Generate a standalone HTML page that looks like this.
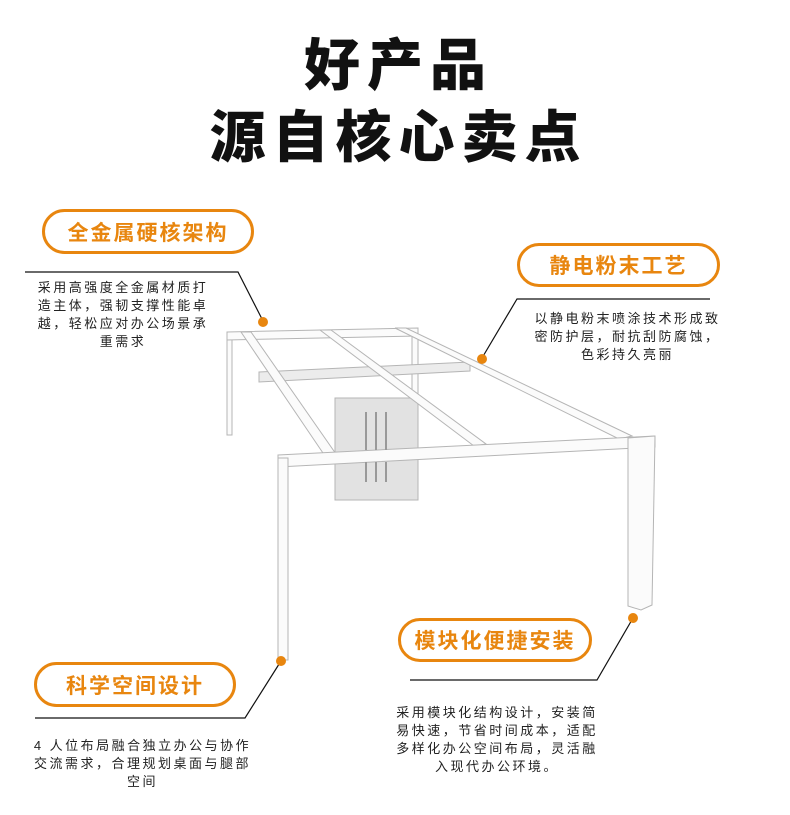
<!DOCTYPE html>
<html><head><meta charset="utf-8"><style>
body{margin:0;background:#fff;}
.w{position:relative;width:790px;height:815px;overflow:hidden;font-family:"Liberation Sans","Noto Sans CJK SC",sans-serif;}
.t{position:absolute;left:0;width:790px;text-align:center;font-weight:900;font-size:56px;color:#111;line-height:1;letter-spacing:7px;text-indent:7px;}
.pill{position:absolute;border:3px solid #e8860f;border-radius:24px;box-sizing:border-box;color:#e8860f;font-weight:700;font-size:21px;display:flex;align-items:center;justify-content:center;letter-spacing:2px;}
.d{position:absolute;font-size:13px;color:#222;text-align:center;line-height:18px;letter-spacing:2.5px;white-space:nowrap;}
</style></head><body><div class="w">
<div class="t" style="top:38px">好产品</div>
<div class="t" style="top:110px">源自核心卖点</div>

<svg width="790" height="815" style="position:absolute;left:0;top:0">
<g fill="#fbfbfb" stroke="#b5b5b5" stroke-width="1">
<rect x="227" y="333" width="5" height="102"/>
<rect x="412" y="330" width="6" height="66"/>
<polygon points="227,332 418,328 418,336 227,340"/>
<rect x="335" y="398" width="83" height="102" fill="#e2e2e2"/>
<polygon points="259,372 470,362 470,371 259,382" fill="#ececec"/>
<polygon points="241,332 251,332 336,454 325,456"/>
<polygon points="320,330 331,330 486,444 474,446"/>
<polygon points="395,328 406,328 632,436 619,439"/>
<polygon points="278,455 655,436 655,447 278,467"/>
<rect x="278" y="458" width="10" height="202"/>
<polygon points="628,438 655,436 652,605 641,610 628,606"/>
</g>
<g fill="#999">
<rect x="365" y="412" width="2" height="38"/><rect x="375" y="412" width="2" height="38"/><rect x="385" y="412" width="2" height="38"/>
<rect x="365" y="462" width="2" height="20"/><rect x="375" y="462" width="2" height="20"/><rect x="385" y="462" width="2" height="20"/>
</g>
<g stroke="#111" stroke-width="1.2" fill="none">
<polyline points="25,272 238,272 263,321"/>
<polyline points="710,299 517,299 482,358"/>
<polyline points="35,718 245,718 281,661"/>
<polyline points="410,680 597,680 633,618"/>
</g>
<g fill="#e8860f">
<circle cx="263" cy="322" r="5"/><circle cx="482" cy="359" r="5"/>
<circle cx="281" cy="661" r="5"/><circle cx="633" cy="618" r="5"/>
</g>
</svg>

<div class="pill" style="left:42px;top:209px;width:212px;height:45px">全金属硬核架构</div>
<div class="pill" style="left:517px;top:243px;width:203px;height:44px">静电粉末工艺</div>
<div class="pill" style="left:34px;top:662px;width:202px;height:45px">科学空间设计</div>
<div class="pill" style="left:398px;top:618px;width:194px;height:44px">模块化便捷安装</div>

<div class="d" style="left:23px;top:279px;width:200px">采用高强度全金属材质打<br>造主体，强韧支撑性能卓<br>越，轻松应对办公场景承<br>重需求</div>
<div class="d" style="left:525px;top:310px;width:205px">以静电粉末喷涂技术形成致<br>密防护层，耐抗刮防腐蚀，<br>色彩持久亮丽</div>
<div class="d" style="left:25px;top:737px;width:235px">4 人位布局融合独立办公与协作<br>交流需求，合理规划桌面与腿部<br>空间</div>
<div class="d" style="left:392px;top:704px;width:210px">采用模块化结构设计，安装简<br>易快速，节省时间成本，适配<br>多样化办公空间布局，灵活融<br>入现代办公环境。</div>
</div></body></html>
